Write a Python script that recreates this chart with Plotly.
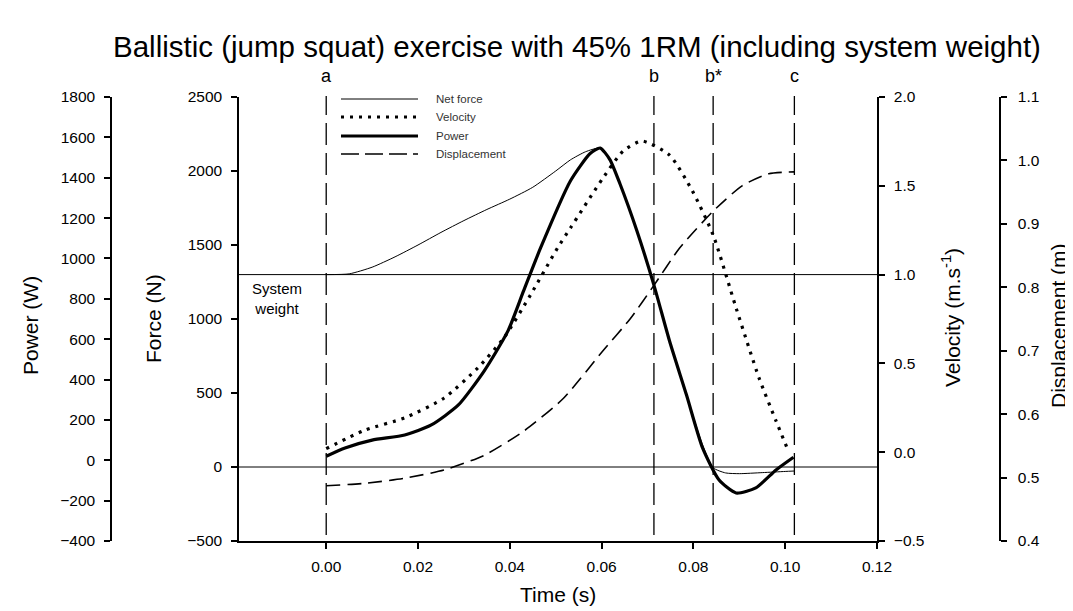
import plotly.graph_objects as go

# ---------------- data ----------------
force_t = [0.0, 0.005, 0.010, 0.015, 0.020, 0.025, 0.030, 0.035, 0.040, 0.045, 0.050,
           0.0532, 0.0565, 0.0597, 0.0618, 0.064, 0.0677, 0.0714, 0.0748, 0.0785, 0.082,
           0.0843, 0.087, 0.090, 0.095, 0.100, 0.102]
force_n = [1300, 1305, 1350, 1420, 1500, 1585, 1665, 1740, 1810, 1890, 2000,
           2075, 2130, 2155, 2077, 1914, 1595, 1230, 851, 486, 149,
           -5, -40, -45, -38, -30, -27]

power_t = [0.0, 0.0041, 0.010, 0.0171, 0.0229, 0.0288, 0.0344, 0.0396, 0.043, 0.0467,
           0.0532, 0.0575, 0.0597, 0.0618, 0.064, 0.0677, 0.0714, 0.0748, 0.0785, 0.082,
           0.0856, 0.0893, 0.0936, 0.098, 0.1018]
power_w = [20, 61, 100, 125, 175, 274, 442, 641, 839, 1052,
           1384, 1520, 1547, 1490, 1370, 1136, 868, 591, 323, 61,
           -98, -162, -137, -48, 15]

vel_t = [0.0, 0.0085, 0.0171, 0.0257, 0.033, 0.0387, 0.0445, 0.0504, 0.0532, 0.0603,
         0.0647, 0.0688, 0.0748, 0.0798, 0.0843, 0.0893, 0.0943, 0.098, 0.1008]
vel_ms = [0.02, 0.125, 0.193, 0.305, 0.474, 0.643, 0.885, 1.15, 1.262, 1.544,
          1.696, 1.752, 1.673, 1.47, 1.223, 0.812, 0.418, 0.176, 0.0]

disp_t = [0.0, 0.0085, 0.0171, 0.0257, 0.0344, 0.043, 0.0517, 0.0603, 0.0662, 0.0714,
          0.077, 0.0843, 0.0906, 0.0964, 0.102]
disp_m = [0.487, 0.491, 0.499, 0.512, 0.535, 0.573, 0.625, 0.70, 0.75, 0.803,
          0.862, 0.92, 0.96, 0.979, 0.982]

phase_labels = ["a", "b", "b*", "c"]
phase_times = [0.0, 0.0714, 0.0843, 0.102]
system_weight_n = 1300
series_names = ["Net force", "Velocity", "Power", "Displacement"]

TITLE = "Ballistic (jump squat) exercise with 45% 1RM (including system weight)"

# ---------------- layout geometry ----------------
W, H = 1073, 611
PX_L, PX_R = 231, 869      # plot area left / right (px)
PY_T, PY_B = 89, 533       # plot area top / bottom (px)
FONT = "Liberation Sans, Arial, sans-serif"

def fx(px):
    return px / W

def fy(py):
    return 1 - py / H

fig = go.Figure()

fig.add_trace(go.Scatter(x=force_t, y=force_n, mode="lines", name=series_names[0],
                         line=dict(color="black", width=1, shape="spline", smoothing=0.6),
                         xaxis="x", yaxis="y"))
fig.add_trace(go.Scatter(x=disp_t, y=disp_m, mode="lines", name=series_names[3],
                         line=dict(color="black", width=1.6, dash="14px,7px", shape="spline", smoothing=0.6),
                         xaxis="x", yaxis="y4"))
fig.add_trace(go.Scatter(x=vel_t, y=vel_ms, mode="lines", name=series_names[1],
                         line=dict(color="black", width=3.2, dash="3px,6px", shape="spline", smoothing=0.6),
                         xaxis="x", yaxis="y3"))
fig.add_trace(go.Scatter(x=power_t, y=power_w, mode="lines", name=series_names[2],
                         line=dict(color="black", width=3.2, shape="spline", smoothing=0.6),
                         xaxis="x", yaxis="y2"))

shapes = []
# horizontal reference lines (system weight and zero force)
for yv in [system_weight_n, 0]:
    shapes.append(dict(type="line", xref="x domain", x0=0, x1=1, yref="y", y0=yv, y1=yv,
                       line=dict(color="black", width=1)))
# vertical phase lines
for tv in phase_times:
    shapes.append(dict(type="line", xref="x", x0=tv, x1=tv, yref="paper",
                       y0=fy(PY_B - 6), y1=fy(PY_T - 1),
                       line=dict(color="black", width=1.3, dash="22px,8px")))

def ann(x, y, text, size, **kw):
    d = dict(x=x, y=y, xref="paper", yref="paper", text=text, showarrow=False,
             xanchor="center", yanchor="middle", borderpad=0,
             font=dict(size=size, color=kw.pop("color", "black"), family=FONT))
    d.update(kw)
    return d

annotations = []
for lab, tv in zip(phase_labels, phase_times):
    a = ann(tv, fy(68), lab, 18)
    a["xref"] = "x"
    annotations.append(a)

# manual legend
leg_y = [91, 109, 128, 146]
leg_styles = [dict(width=1, dash="solid"), dict(width=3.2, dash="3px,6px"),
              dict(width=3.2, dash="solid"), dict(width=1.6, dash="18px,6px")]
for name, yy, st in zip(series_names, leg_y, leg_styles):
    shapes.append(dict(type="line", xref="paper", yref="paper", x0=fx(333), x1=fx(410),
                       y0=fy(yy), y1=fy(yy), line=dict(color="black", **st)))
    annotations.append(ann(fx(427), fy(yy), name, 11.5, color="#333", xanchor="left"))

annotations.append(ann(fx(269), fy(290), "System<br>weight", 15, align="center"))

# axis titles
annotations += [
    ann(fx(22), fy(318), "Power (W)", 21, textangle=-90),
    ann(fx(145), fy(311), "Force (N)", 21, textangle=-90),
    ann(fx(943), fy(310), "Velocity (m.s<sup>-1</sup>)", 21, textangle=-90),
    ann(fx(1050), fy(318), "Displacement (m)", 21, textangle=-90),
    ann((fx(PX_L) + fx(PX_R)) / 2, fy(586), "Time (s)", 21),
    ann(fx(569), fy(39), TITLE, 29.5),
]

axis_common = dict(showgrid=False, zeroline=False, showline=True, linecolor="black",
                   linewidth=1.5, ticks="outside", ticklen=6, tickwidth=1.5, tickcolor="black",
                   tickfont=dict(size=15.5, color="black", family=FONT), automargin=False)

fig.update_layout(
    width=W, height=H,
    margin=dict(l=0, r=0, t=0, b=0),
    paper_bgcolor="white", plot_bgcolor="white",
    showlegend=False,
    xaxis=dict(domain=[fx(PX_L), fx(PX_R)], range=[-0.0190, 0.12], tick0=0, dtick=0.02,
               tickformat=".2f", anchor="y", ticklabelstandoff=5, **axis_common),
    yaxis=dict(domain=[fy(PY_B), fy(PY_T)], range=[-500, 2500], dtick=500, anchor="x",
               side="left", ticklabelstandoff=6, **axis_common),
    yaxis2=dict(overlaying="y", range=[-400, 1800], dtick=200, anchor="free",
                position=fx(103), side="left", ticklabelstandoff=6, **axis_common),
    yaxis3=dict(overlaying="y", range=[-0.5, 2.0], dtick=0.5, tickformat=".1f", anchor="x",
                side="right", ticklabelstandoff=6, **axis_common),
    yaxis4=dict(overlaying="y", range=[0.4, 1.1], dtick=0.1, tickformat=".1f", anchor="free",
                position=fx(992), side="right", ticklabelstandoff=8, **axis_common),
    shapes=shapes,
    annotations=annotations,
)

fig.write_html("out.html")
